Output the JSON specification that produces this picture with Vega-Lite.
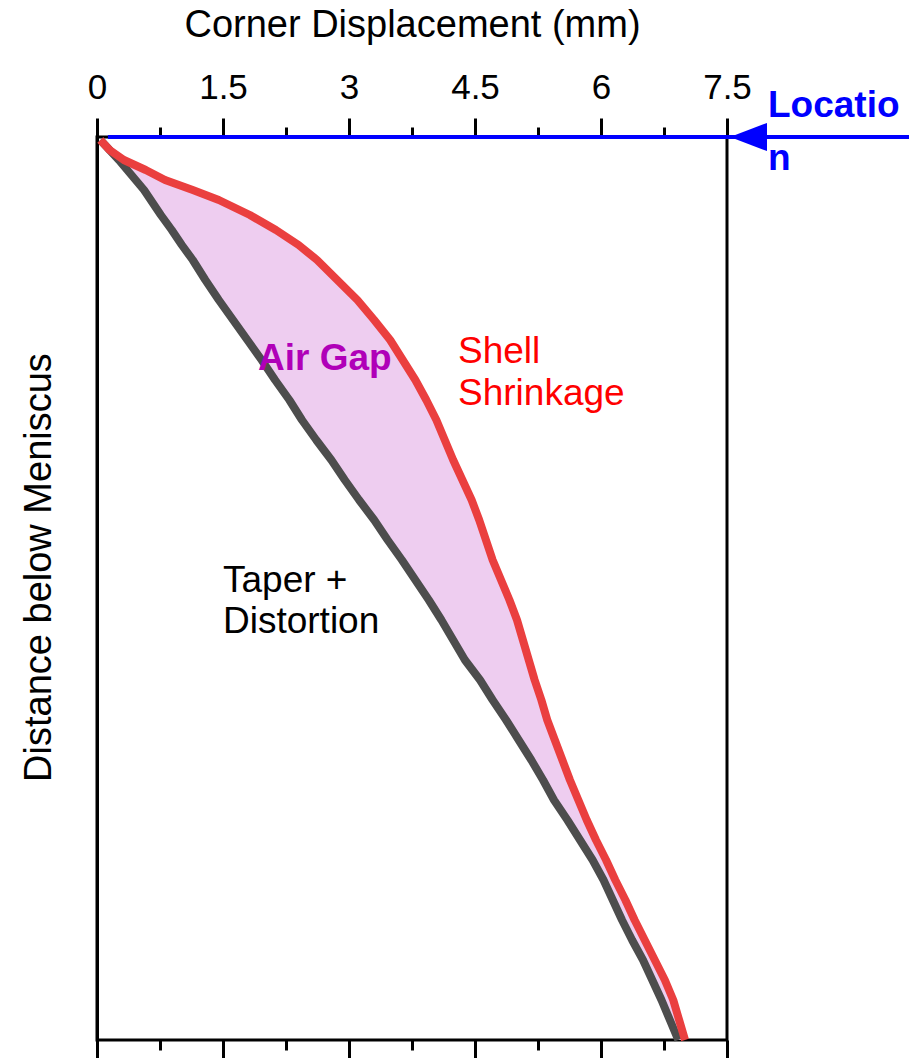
{
  "$schema": "https://vega.github.io/schema/vega-lite/v6.json",
  "width": 630,
  "height": 903,
  "autosize": "none",
  "padding": {"left": 97, "top": 137, "right": 182, "bottom": 18},
  "background": "white",
  "config": {
    "font": "Liberation Sans",
    "view": {"stroke": "black", "strokeWidth": 3},
    "axis": {
      "grid": false,
      "tickColor": "black",
      "tickWidth": 3,
      "domainColor": "black",
      "domainWidth": 3,
      "labelFont": "Liberation Sans",
      "labelFontSize": 35,
      "labelColor": "black",
      "titleFont": "Liberation Sans",
      "titleFontSize": 38,
      "titleFontWeight": "normal",
      "titleColor": "black"
    }
  },
  "datasets": {
    "profile": [
      {"depth": 3, "shell": 0.04, "taper": 0.04},
      {"depth": 13, "shell": 0.15, "taper": 0.15},
      {"depth": 23, "shell": 0.32, "taper": 0.26},
      {"depth": 33, "shell": 0.58, "taper": 0.36},
      {"depth": 43, "shell": 0.81, "taper": 0.46},
      {"depth": 53, "shell": 1.14, "taper": 0.56},
      {"depth": 63, "shell": 1.45, "taper": 0.64},
      {"depth": 78, "shell": 1.82, "taper": 0.76},
      {"depth": 93, "shell": 2.13, "taper": 0.89},
      {"depth": 108, "shell": 2.40, "taper": 1.01},
      {"depth": 123, "shell": 2.62, "taper": 1.14},
      {"depth": 143, "shell": 2.86, "taper": 1.29},
      {"depth": 163, "shell": 3.10, "taper": 1.45},
      {"depth": 183, "shell": 3.30, "taper": 1.62},
      {"depth": 203, "shell": 3.49, "taper": 1.79},
      {"depth": 223, "shell": 3.64, "taper": 1.96},
      {"depth": 243, "shell": 3.79, "taper": 2.12},
      {"depth": 263, "shell": 3.92, "taper": 2.29},
      {"depth": 283, "shell": 4.04, "taper": 2.44},
      {"depth": 303, "shell": 4.14, "taper": 2.61},
      {"depth": 323, "shell": 4.24, "taper": 2.79},
      {"depth": 343, "shell": 4.35, "taper": 2.95},
      {"depth": 363, "shell": 4.46, "taper": 3.12},
      {"depth": 383, "shell": 4.55, "taper": 3.30},
      {"depth": 403, "shell": 4.63, "taper": 3.46},
      {"depth": 423, "shell": 4.71, "taper": 3.63},
      {"depth": 443, "shell": 4.81, "taper": 3.79},
      {"depth": 463, "shell": 4.91, "taper": 3.95},
      {"depth": 483, "shell": 5.00, "taper": 4.10},
      {"depth": 503, "shell": 5.07, "taper": 4.24},
      {"depth": 523, "shell": 5.14, "taper": 4.38},
      {"depth": 543, "shell": 5.21, "taper": 4.56},
      {"depth": 563, "shell": 5.29, "taper": 4.71},
      {"depth": 583, "shell": 5.36, "taper": 4.87},
      {"depth": 603, "shell": 5.45, "taper": 5.02},
      {"depth": 623, "shell": 5.54, "taper": 5.17},
      {"depth": 643, "shell": 5.63, "taper": 5.31},
      {"depth": 663, "shell": 5.73, "taper": 5.44},
      {"depth": 683, "shell": 5.83, "taper": 5.60},
      {"depth": 703, "shell": 5.94, "taper": 5.75},
      {"depth": 723, "shell": 6.06, "taper": 5.90},
      {"depth": 743, "shell": 6.17, "taper": 6.03},
      {"depth": 763, "shell": 6.29, "taper": 6.14},
      {"depth": 783, "shell": 6.40, "taper": 6.25},
      {"depth": 803, "shell": 6.52, "taper": 6.37},
      {"depth": 823, "shell": 6.64, "taper": 6.50},
      {"depth": 843, "shell": 6.76, "taper": 6.61},
      {"depth": 863, "shell": 6.86, "taper": 6.72},
      {"depth": 883, "shell": 6.93, "taper": 6.82},
      {"depth": 903, "shell": 7.00, "taper": 6.92}
    ],
    "one": [{}]
  },
  "layer": [
    {
      "data": {"name": "profile"},
      "mark": {"type": "area", "orient": "horizontal", "color": "#eecdf0", "opacity": 1},
      "encoding": {
        "y": {
          "field": "depth", "type": "quantitative",
          "title": "Distance below Meniscus",
          "scale": {"domain": [0, 903], "reverse": true, "nice": false, "zero": false},
          "axis": {
            "orient": "left", "ticks": false, "labels": false, "domain": true,
            "titleAngle": 270, "titleX": -47, "titleY": 430,
            "titleAlign": "center", "titleBaseline": "alphabetic"
          }
        },
        "x": {
          "field": "shell", "type": "quantitative",
          "scale": {"domain": [0, 7.5], "nice": false, "zero": false},
          "axis": {
            "orient": "top",
            "domain": false,
            "values": [0, 0.75, 1.5, 2.25, 3, 3.75, 4.5, 5.25, 6, 6.75, 7.5],
            "labelExpr": "datum.value % 1.5 === 0 ? format(datum.value, '~g') : ''",
            "labelFlush": false,
            "labelOverlap": false,
            "labelBaseline": "alphabetic",
            "labelPadding": 20,
            "tickSize": {"condition": {"test": "datum.value % 1.5 === 0", "value": 19}, "value": 10},
            "title": "Corner Displacement (mm)",
            "titleBaseline": "alphabetic",
            "titleY": -101
          }
        },
        "x2": {"field": "taper"}
      }
    },
    {
      "data": {"name": "profile"},
      "mark": {"type": "line", "color": "#4d4d4d", "strokeWidth": 8, "strokeJoin": "round"},
      "encoding": {
        "y": {"field": "depth", "type": "quantitative", "axis": null},
        "x": {
          "field": "taper", "type": "quantitative",
          "axis": {
            "orient": "bottom",
            "domain": false,
            "values": [0, 0.75, 1.5, 2.25, 3, 3.75, 4.5, 5.25, 6, 6.75, 7.5],
            "labels": false,
            "title": null,
            "tickSize": {"condition": {"test": "datum.value % 1.5 === 0", "value": 19}, "value": 10}
          }
        },
        "order": {"field": "depth"}
      }
    },
    {
      "data": {"name": "profile"},
      "mark": {"type": "line", "color": "#ea3f3f", "strokeWidth": 8, "strokeJoin": "round"},
      "encoding": {
        "y": {"field": "depth", "type": "quantitative", "axis": null},
        "x": {"field": "shell", "type": "quantitative", "axis": null},
        "order": {"field": "depth"}
      }
    },
    {
      "data": {"name": "one"},
      "mark": {"type": "rule", "color": "#0000ff", "strokeWidth": 4},
      "encoding": {
        "x": {"datum": 0.13, "type": "quantitative", "axis": null},
        "x2": {"datum": 9.8},
        "y": {"datum": 0, "type": "quantitative", "axis": null}
      }
    },
    {
      "data": {"name": "one"},
      "mark": {"type": "point", "shape": "M-1,0L1,-0.76L1,0.76Z", "size": 1369, "filled": true, "color": "#0000ff", "opacity": 1, "strokeWidth": 0},
      "encoding": {
        "x": {"datum": 7.756, "type": "quantitative", "axis": null},
        "y": {"datum": 0, "type": "quantitative", "axis": null}
      }
    },
    {
      "data": {"name": "one"},
      "mark": {"type": "text", "text": ["Locatio", "n"], "align": "left", "baseline": "alphabetic", "font": "Liberation Sans", "fontSize": 37, "fontWeight": "bold", "color": "#0000ff", "lineHeight": 53},
      "encoding": {
        "x": {"datum": 7.988, "type": "quantitative", "axis": null},
        "y": {"datum": -20, "type": "quantitative", "axis": null}
      }
    },
    {
      "data": {"name": "one"},
      "mark": {"type": "text", "text": "Air Gap", "align": "left", "baseline": "alphabetic", "font": "Liberation Sans", "fontSize": 37, "fontWeight": "bold", "color": "#b000b8"},
      "encoding": {
        "x": {"datum": 1.917, "type": "quantitative", "axis": null},
        "y": {"datum": 233, "type": "quantitative", "axis": null}
      }
    },
    {
      "data": {"name": "one"},
      "mark": {"type": "text", "text": ["Shell", "Shrinkage"], "align": "left", "baseline": "alphabetic", "font": "Liberation Sans", "fontSize": 37, "color": "#ff0000", "lineHeight": 42},
      "encoding": {
        "x": {"datum": 4.298, "type": "quantitative", "axis": null},
        "y": {"datum": 226, "type": "quantitative", "axis": null}
      }
    },
    {
      "data": {"name": "one"},
      "mark": {"type": "text", "text": ["Taper +", "Distortion"], "align": "left", "baseline": "alphabetic", "font": "Liberation Sans", "fontSize": 37, "color": "black", "lineHeight": 41},
      "encoding": {
        "x": {"datum": 1.5, "type": "quantitative", "axis": null},
        "y": {"datum": 455, "type": "quantitative", "axis": null}
      }
    }
  ],
  "resolve": {"axis": {"x": "independent", "y": "independent"}}
}
